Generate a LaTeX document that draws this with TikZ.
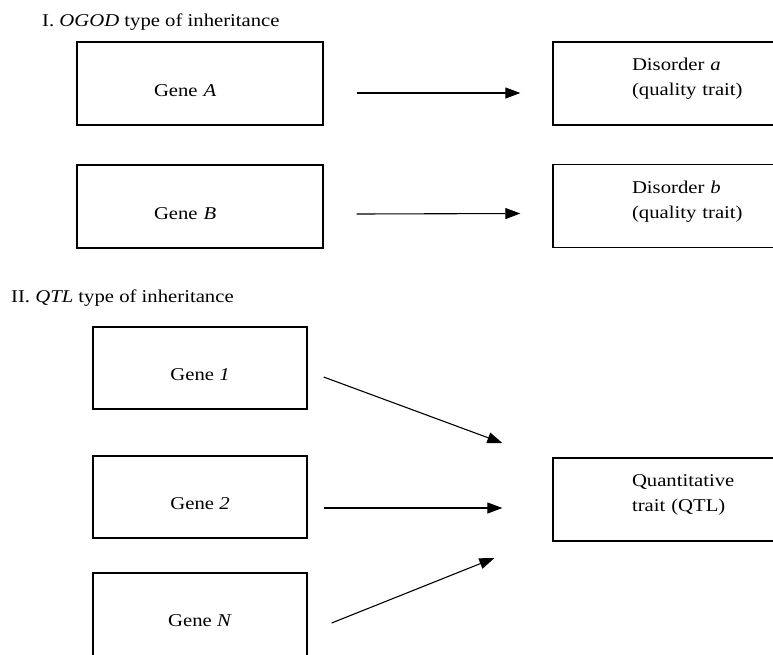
\documentclass[tikz,border=0pt]{standalone}
\usepackage{fontspec}
\setmainfont[FakeStretch=1.15]{Liberation Serif}
\usetikzlibrary{arrows.meta, positioning}

\begin{document}
\begin{tikzpicture}[
    x=1pt, y=-1pt,
    font=\fontsize{18}{25}\selectfont,
    heading/.style={anchor=base west, inner sep=0pt},
    genebox/.style={rectangle, draw, line width=1.3pt, minimum width=246pt, minimum height=83pt, text height=25pt, text depth=0pt},
    smallgene/.style={genebox, minimum width=214pt, minimum height=82pt},
    traitbox/.style={rectangle, draw, line width=1.3pt, minimum width=300pt, minimum height=83pt, text width=142pt, align=left, inner xsep=0pt, text depth=38pt},
    arrow/.style={-{Triangle[length=15pt, width=11pt]}, line width=1.1pt}
]
\useasboundingbox (0,0) rectangle (773,654);

% I. OGOD
\node[heading] (titleI) at (42,26) {I. \textit{OGOD} type of inheritance};
\node[genebox, text width=92pt, align=left, inner xsep=0pt] (geneA) at (200,83.5) {Gene \textit{A}};
\node[genebox, text width=92pt, align=left, inner xsep=0pt] (geneB) at (200,206.5) {Gene \textit{B}};
\node[traitbox] (disA) at (703,83.5) {Disorder \textit{a}\\(quality trait)};
\node[traitbox] (disB) at (703,206) {Disorder \textit{b}\\(quality trait)};

\coordinate (a0) at ([xshift=33pt, yshift=-9.5pt]geneA.east);
\coordinate (a1) at ([xshift=-32pt, yshift=-9.5pt]disA.west);
\coordinate (b0) at ([xshift=33pt, yshift=-7.5pt]geneB.east);
\coordinate (b1) at ([xshift=-32pt, yshift=-7.5pt]disB.west);
\draw[arrow] (a0) -- (a1);
\draw[arrow] (b0) -- (b1);

% II. QTL
\node[heading] (titleII) at (11,302) {II. \textit{QTL} type of inheritance};
\node[smallgene] (gene1) at (200,368) {Gene \textit{1}};
\node[smallgene] (gene2) at (200,497) {Gene \textit{2}};
\node[smallgene, minimum height=90pt, text height=17pt] (geneN) at (200,618) {Gene \textit{N}};
\node[traitbox] (qtl) at (703,499.5) {Quantitative\\trait (QTL)};

\coordinate (g1) at ([xshift=16pt, yshift=-9pt]gene1.east);
\coordinate (q1) at ([xshift=-50pt, yshift=56.5pt]qtl.west);
\coordinate (g2) at ([xshift=16pt, yshift=-11pt]gene2.east);
\coordinate (q2) at ([xshift=-50pt, yshift=-8.5pt]qtl.west);
\coordinate (gN) at ([xshift=24pt, yshift=-5pt]geneN.east);
\coordinate (qN) at ([xshift=-58pt, yshift=-58.5pt]qtl.west);
\draw[arrow] (g1) -- (q1);
\draw[arrow] (g2) -- (q2);
\draw[arrow] (gN) -- (qN);

\end{tikzpicture}
\end{document}
